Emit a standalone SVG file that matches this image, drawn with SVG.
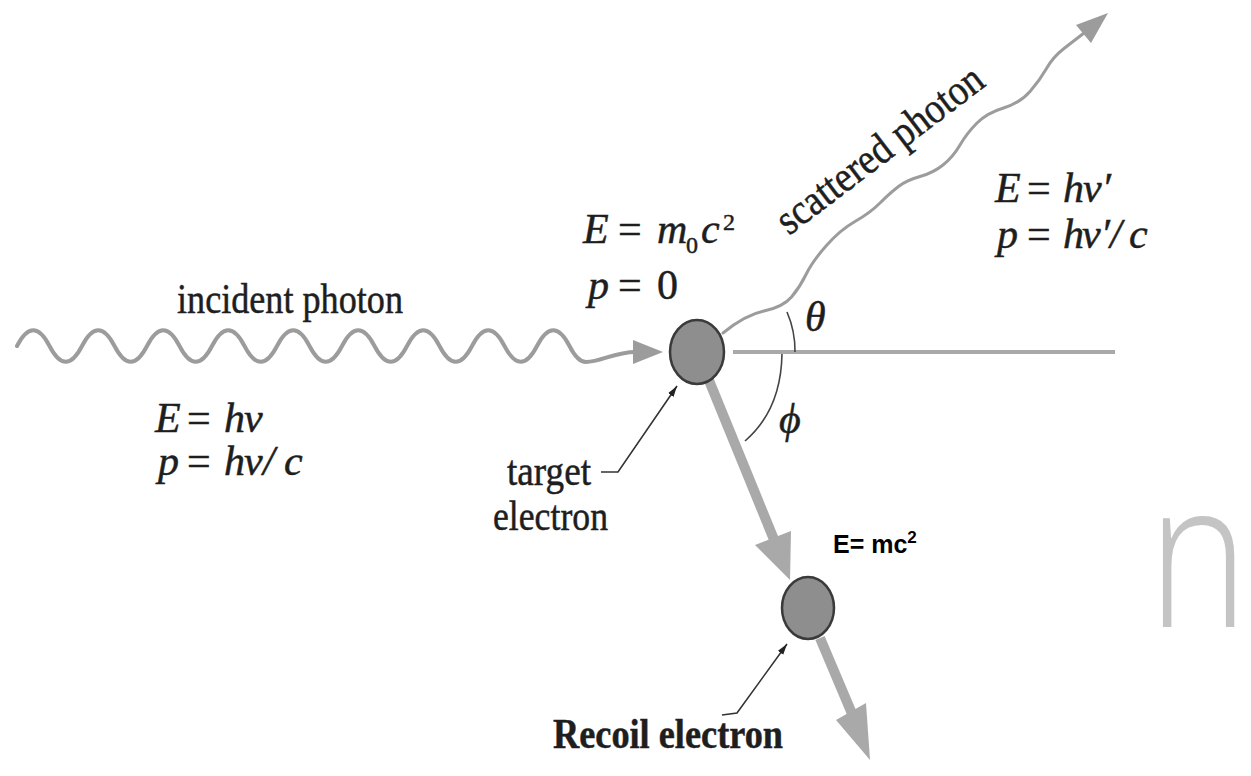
<svg xmlns="http://www.w3.org/2000/svg" width="1251" height="776" viewBox="0 0 1251 776">
<style>
.wave{fill:none;stroke:#9c9c9c;stroke-width:4;stroke-linecap:round;stroke-linejoin:round}
.swave{fill:none;stroke:#9c9c9c;stroke-width:3;stroke-linecap:round}
.head{fill:#9c9c9c}
.elec{fill:#8e8e8e;stroke:#3a3a3a;stroke-width:2.5}
.thick{stroke:#a9a9a9;stroke-width:10;fill:none}
.thead{fill:#a9a9a9}
.ptr{stroke:#333;stroke-width:1.6;fill:none}
.arc{stroke:#444;stroke-width:1.6;fill:none}
.axis{stroke:#a9a9a9;stroke-width:4}
.t{font-family:"Liberation Serif",serif;fill:#1e1e1e;stroke:#1e1e1e;stroke-width:0.5;font-size:43px}
.m{font-family:"Liberation Serif",serif;fill:#1e1e1e;stroke:#1e1e1e;stroke-width:0.5;font-size:42px;font-style:italic}
.up{font-style:normal}
</style>
<defs>
<marker id="ah" viewBox="0 0 10 6" refX="10" refY="3" markerWidth="11" markerHeight="7" markerUnits="userSpaceOnUse" orient="auto">
<path d="M0,0 L10,3 L0,6 z" fill="#222"/>
</marker>
</defs>
<rect width="1251" height="776" fill="#ffffff"/>

<g id="connectors">
<path id="incident-wave" class="wave" d="M17,346 c 10.8,-21 21.7,-21 32.5,0 s 21.7,21 32.5,0 s 21.7,-21 32.5,0 s 21.7,21 32.5,0 s 21.7,-21 32.5,0 s 21.7,21 32.5,0 s 21.7,-21 32.5,0 s 21.7,21 32.5,0 s 21.7,-21 32.5,0 s 21.7,21 32.5,0 s 21.7,-21 32.5,0 s 21.7,21 32.5,0 s 21.7,-21 32.5,0 s 21.7,21 32.5,0 s 21.7,-21 32.5,0 s 21.7,21 32.5,0 s 21.7,-21 32.5,0 C 574,355 579,362 586,362 C 601,362 614,352 636,352"/>
<polygon class="head" points="633,340 663,352 633,364"/>
<line class="axis" x1="733" y1="352" x2="1115" y2="352"/>
<path id="scattered-wave" class="swave" d="M723,333 Q745,315 764,311 Q783,307 791.5,297 Q800,287 806,274.5 Q812,262 826,246 Q840,230 855,221.5 Q870,213 880,203 Q890,193 898.5,186.5 Q907,180 920,176.5 Q933,173 943,165 Q953,157 960,145 Q967,133 977,123 Q987,113 1003.5,108 Q1020,103 1030,91.5 Q1040,80 1046.5,68.5 Q1053,57 1064,48.5 L1084,33"/>
<polygon class="head" points="1108,13 1076,25 1091,43"/>
<path class="arc" d="M787,312 A98,98 0 0 1 795,352"/>
<path class="arc" d="M782,354 Q781,410 745,441"/>
<line class="thick" x1="708" y1="378" x2="775" y2="542"/>
<polygon class="thead" points="790,580 791,531 755,545"/>
<line class="thick" x1="820" y1="638" x2="853" y2="716"/>
<polygon class="thead" points="870,760 866,703 836,720"/>
<path class="ptr" d="M601,472 L618,472 L677,386" marker-end="url(#ah)"/>
<path class="ptr" d="M722,715 L737,713 L787,644" marker-end="url(#ah)"/>
</g>

<g id="target-electron">
<ellipse class="elec" cx="697" cy="352" rx="27" ry="32"/>
<text class="t" x="507" y="485" textLength="84" lengthAdjust="spacingAndGlyphs">target</text>
<text class="t" x="493" y="530" textLength="115" lengthAdjust="spacingAndGlyphs">electron</text>
</g>

<g id="recoil-electron">
<ellipse class="elec" cx="808" cy="608" rx="26" ry="31"/>
<text class="t" x="553" y="748" font-weight="bold" textLength="230" lengthAdjust="spacingAndGlyphs">Recoil electron</text>
<text x="833" y="553" font-family="Liberation Sans,Arial,sans-serif" font-weight="bold" font-size="25" fill="#000">E= mc<tspan font-size="17" dy="-10">2</tspan></text>
</g>

<g id="incident-photon">
<text class="t" x="177" y="313" textLength="226" lengthAdjust="spacingAndGlyphs">incident photon</text>
<text class="m" y="432"><tspan x="155">E</tspan><tspan x="187" class="up">=</tspan><tspan x="224">h</tspan><tspan x="244">ν</tspan></text>
<text class="m" y="475"><tspan x="158">p</tspan><tspan x="187" class="up">=</tspan><tspan x="224">h</tspan><tspan x="244">ν</tspan><tspan x="263">/</tspan><tspan x="284">c</tspan></text>
</g>

<g id="electron-state">
<text class="m" y="243"><tspan x="583">E</tspan><tspan x="618" class="up">=</tspan><tspan x="657">m</tspan><tspan x="686" font-size="24" dy="10" class="up">0</tspan><tspan x="701" dy="-10">c</tspan><tspan x="723" font-size="24" dy="-13" class="up">2</tspan></text>
<text class="m" y="299"><tspan x="588">p</tspan><tspan x="618" class="up">=</tspan><tspan x="657" class="up">0</tspan></text>
</g>

<g id="scattered-photon">
<text class="t" transform="translate(789,236) rotate(-37.3)" textLength="249" lengthAdjust="spacingAndGlyphs">scattered photon</text>
<text class="m" y="202"><tspan x="995">E</tspan><tspan x="1027" class="up">=</tspan><tspan x="1063">h</tspan><tspan x="1083">ν′</tspan></text>
<text class="m" y="248"><tspan x="997">p</tspan><tspan x="1027" class="up">=</tspan><tspan x="1063">h</tspan><tspan x="1082">ν′</tspan><tspan x="1110">/</tspan><tspan x="1129">c</tspan></text>
</g>

<g id="angles">
<text class="m" x="805" y="331" font-size="38">θ</text>
<text class="m" x="779" y="433" font-size="38">ϕ</text>
</g>

<text transform="translate(1148,627) scale(0.83,1)" font-family="Open Sans,sans-serif" font-weight="300" font-size="205" fill="#c4c4c4">n</text>
</svg>
